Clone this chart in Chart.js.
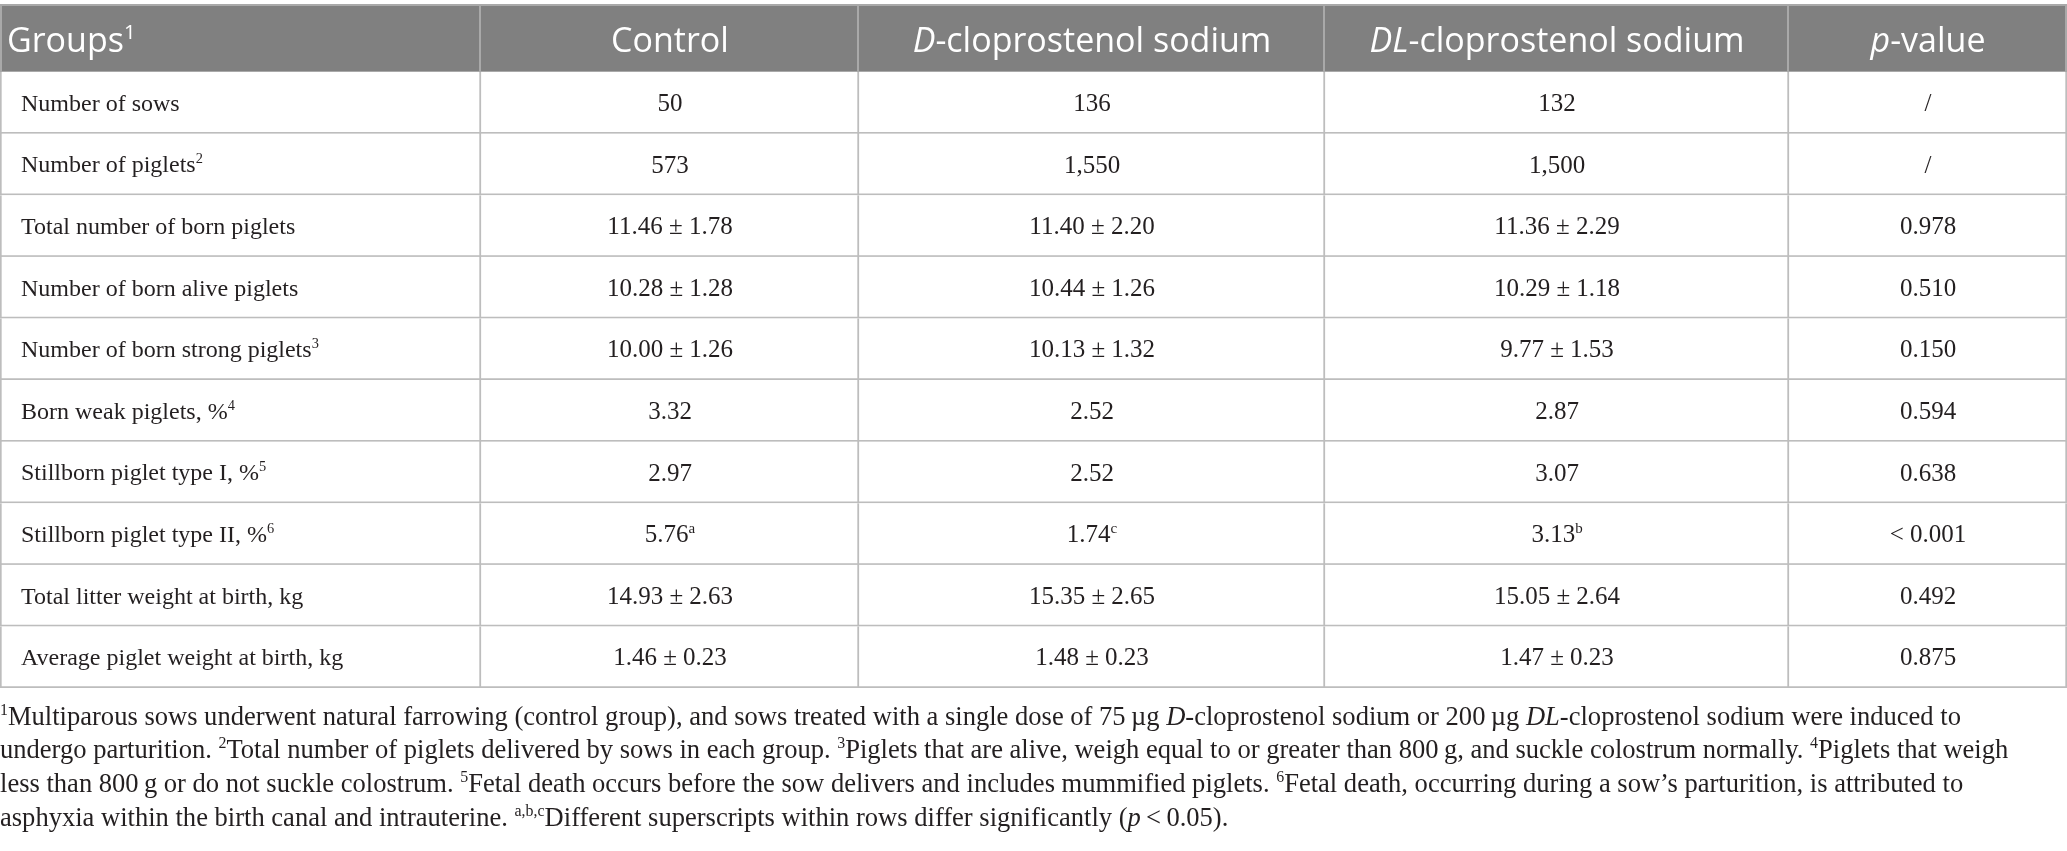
<!DOCTYPE html>
<html>
<head>
<meta charset="utf-8">
<script src="https://cdn.jsdelivr.net/npm/chart.js@4.4.0/dist/chart.umd.min.js"></script>
<style>
html, body { margin: 0; padding: 0; background: #fff; }
#wrap { width: 2067px; height: 851px; position: relative; }
</style>
</head>
<body>
<div id="wrap"><canvas id="table_chart" width="2067" height="851"></canvas></div>
<script>
// markup in the strings: _x_ = italic, ^x^ = superscript
var groups = ['Groups^1^', 'Control', '_D_-cloprostenol sodium', '_DL_-cloprostenol sodium', '_p_-value'];
var rowLabels = [
    'Number of sows',
    'Number of piglets^2^',
    'Total number of born piglets',
    'Number of born alive piglets',
    'Number of born strong piglets^3^',
    'Born weak piglets, %^4^',
    'Stillborn piglet type I, %^5^',
    'Stillborn piglet type II, %^6^',
    'Total litter weight at birth, kg',
    'Average piglet weight at birth, kg'
];
var controlVals = ['50', '573', '11.46 ± 1.78', '10.28 ± 1.28', '10.00 ± 1.26', '3.32', '2.97', '5.76^a^', '14.93 ± 2.63', '1.46 ± 0.23'];
var dVals       = ['136', '1,550', '11.40 ± 2.20', '10.44 ± 1.26', '10.13 ± 1.32', '2.52', '2.52', '1.74^c^', '15.35 ± 2.65', '1.48 ± 0.23'];
var dlVals      = ['132', '1,500', '11.36 ± 2.29', '10.29 ± 1.18', '9.77 ± 1.53', '2.87', '3.07', '3.13^b^', '15.05 ± 2.64', '1.47 ± 0.23'];
var pVals       = ['/', '/', '0.978', '0.510', '0.150', '0.594', '0.638', '< 0.001', '0.492', '0.875'];
var footnotes = [
    '^1^Multiparous sows underwent natural farrowing (control group), and sows treated with a single dose of 75\u2009µg _D_-cloprostenol sodium or 200\u2009µg _DL_-cloprostenol sodium were induced to',
    'undergo parturition. ^2^Total number of piglets delivered by sows in each group. ^3^Piglets that are alive, weigh equal to or greater than 800\u2009g, and suckle colostrum normally. ^4^Piglets that weigh',
    'less than 800\u2009g or do not suckle colostrum. ^5^Fetal death occurs before the sow delivers and includes mummified piglets. ^6^Fetal death, occurring during a sow\u2019s parturition, is attributed to',
    'asphyxia within the birth canal and intrauterine. ^a,b,c^Different superscripts within rows differ significantly (_p_\u2009<\u20090.05).'
];

// layout
var colWidths = [481, 378, 466, 464, 278];
var HEADER_TOP = 4, HEADER_BOTTOM = 72, TABLE_BOTTOM = 688;
var LINE = '#bdbdbd', HEAD_BG = '#808080', INK = '#231f20';
var SANS = '"Open Sans", "Noto Sans", sans-serif';
var SERIF = '"Liberation Serif", "Times New Roman", serif';
var NOTE_Y = 716, NOTE_STEP = 33.7, NOTE_WIDTH = 1962;

var edges = [0];
colWidths.forEach(function (w) { edges.push(edges[edges.length - 1] + w); });
var columns = [rowLabels, controlVals, dVals, dlVals, pVals];

function parseRuns(str) {
    var runs = [], cur = '', it = false, sup = false;
    for (var i = 0; i < str.length; i++) {
        var ch = str[i];
        if (ch === '_' || ch === '^') {
            if (cur) runs.push({ t: cur, it: it, sup: sup });
            cur = '';
            if (ch === '_') it = !it; else sup = !sup;
        } else cur += ch;
    }
    if (cur) runs.push({ t: cur, it: it, sup: sup });
    return runs;
}

function runFont(r, size, family) {
    return (r.it ? 'italic ' : '') + (r.sup ? size * 0.6 : size) + 'px ' + family;
}

function richWidth(ctx, str, size, family) {
    var w = 0;
    parseRuns(str).forEach(function (r) { ctx.font = runFont(r, size, family); w += ctx.measureText(r.t).width; });
    return w;
}

function drawRich(ctx, str, x, cy, align, size, family, color) {
    var runs = parseRuns(str);
    var total = richWidth(ctx, str, size, family);
    var px = align === 'center' ? x - total / 2 : x;
    var base = cy + size * 0.33;
    ctx.fillStyle = color;
    ctx.textBaseline = 'alphabetic';
    ctx.textAlign = 'left';
    runs.forEach(function (r) {
        ctx.font = runFont(r, size, family);
        ctx.fillText(r.t, px, r.sup ? base - size * 0.38 : base);
        px += ctx.measureText(r.t).width;
    });
}

var tablePlugin = {
    id: 'tablePlugin',
    beforeDatasetsDraw: function (chart) {
        var ctx = chart.ctx, x = chart.scales.x;
        var left = x.getPixelForValue(edges[0]), right = x.getPixelForValue(edges[edges.length - 1]);
        ctx.save();
        ctx.fillStyle = HEAD_BG;
        ctx.fillRect(left, HEADER_TOP, right - left, chart.chartArea.top - HEADER_TOP);
        ctx.strokeStyle = '#a9a9a9';
        ctx.lineWidth = 2;
        ctx.strokeRect(left + 1, HEADER_TOP + 1, right - left - 2, chart.chartArea.top - HEADER_TOP - 1);
        for (var i = 1; i < edges.length - 1; i++) {
            var ex = x.getPixelForValue(edges[i]) - 1;
            ctx.beginPath();
            ctx.moveTo(ex, HEADER_TOP);
            ctx.lineTo(ex, chart.chartArea.top);
            ctx.stroke();
        }
        ctx.restore();
    },
    afterDatasetsDraw: function (chart) {
        var ctx = chart.ctx, x = chart.scales.x;
        ctx.save();
        var hy = (HEADER_TOP + chart.chartArea.top) / 2 + 3;
        groups.forEach(function (g, c) {
            if (c === 0) drawRich(ctx, g, x.getPixelForValue(edges[0]) + 7, hy, 'left', 34, SANS, '#ffffff');
            else drawRich(ctx, g, (x.getPixelForValue(edges[c]) + x.getPixelForValue(edges[c + 1])) / 2, hy, 'center', 34, SANS, '#ffffff');
        });
        chart.data.datasets.forEach(function (ds, c) {
            var meta = chart.getDatasetMeta(c);
            meta.data.forEach(function (el, r) {
                var txt = columns[c][r];
                if (c === 0) drawRich(ctx, txt, el.base + 21, el.y, 'left', 24, SERIF, INK);
                else drawRich(ctx, txt, (el.x + el.base) / 2, el.y, 'center', 25, SERIF, INK);
            });
        });
        // footnotes, sized to the width of the first line
        var noteSize = 24 * NOTE_WIDTH / richWidth(ctx, footnotes[0], 24, SERIF);
        footnotes.forEach(function (f, i) {
            drawRich(ctx, f, 0, NOTE_Y + i * NOTE_STEP, 'left', noteSize, SERIF, INK);
        });
        ctx.restore();
    }
};

var datasets = columns.map(function (col, c) {
    return {
        label: groups[c],
        data: col.map(function () { return [edges[c], edges[c + 1]]; }),
        backgroundColor: '#ffffff',
        borderColor: LINE,
        borderWidth: c === 0 ? { left: 2, right: 2, bottom: 2, top: 0 } : { left: 0, right: 2, bottom: 2, top: 0 },
        borderSkipped: false,
        grouped: false,
        barPercentage: 1,
        categoryPercentage: 1
    };
});

new Chart(document.getElementById('table_chart'), {
    type: 'bar',
    data: { labels: rowLabels, datasets: datasets },
    options: {
        indexAxis: 'y',
        responsive: false,
        animation: false,
        events: [],
        layout: { padding: { top: HEADER_BOTTOM, bottom: 851 - TABLE_BOTTOM, left: 0, right: 0 } },
        plugins: { legend: { display: false }, tooltip: { enabled: false }, title: { display: false } },
        scales: {
            x: { type: 'linear', min: edges[0], max: edges[edges.length - 1], display: false },
            y: { type: 'category', display: false }
        }
    },
    plugins: [tablePlugin]
});
</script>
</body>
</html>
